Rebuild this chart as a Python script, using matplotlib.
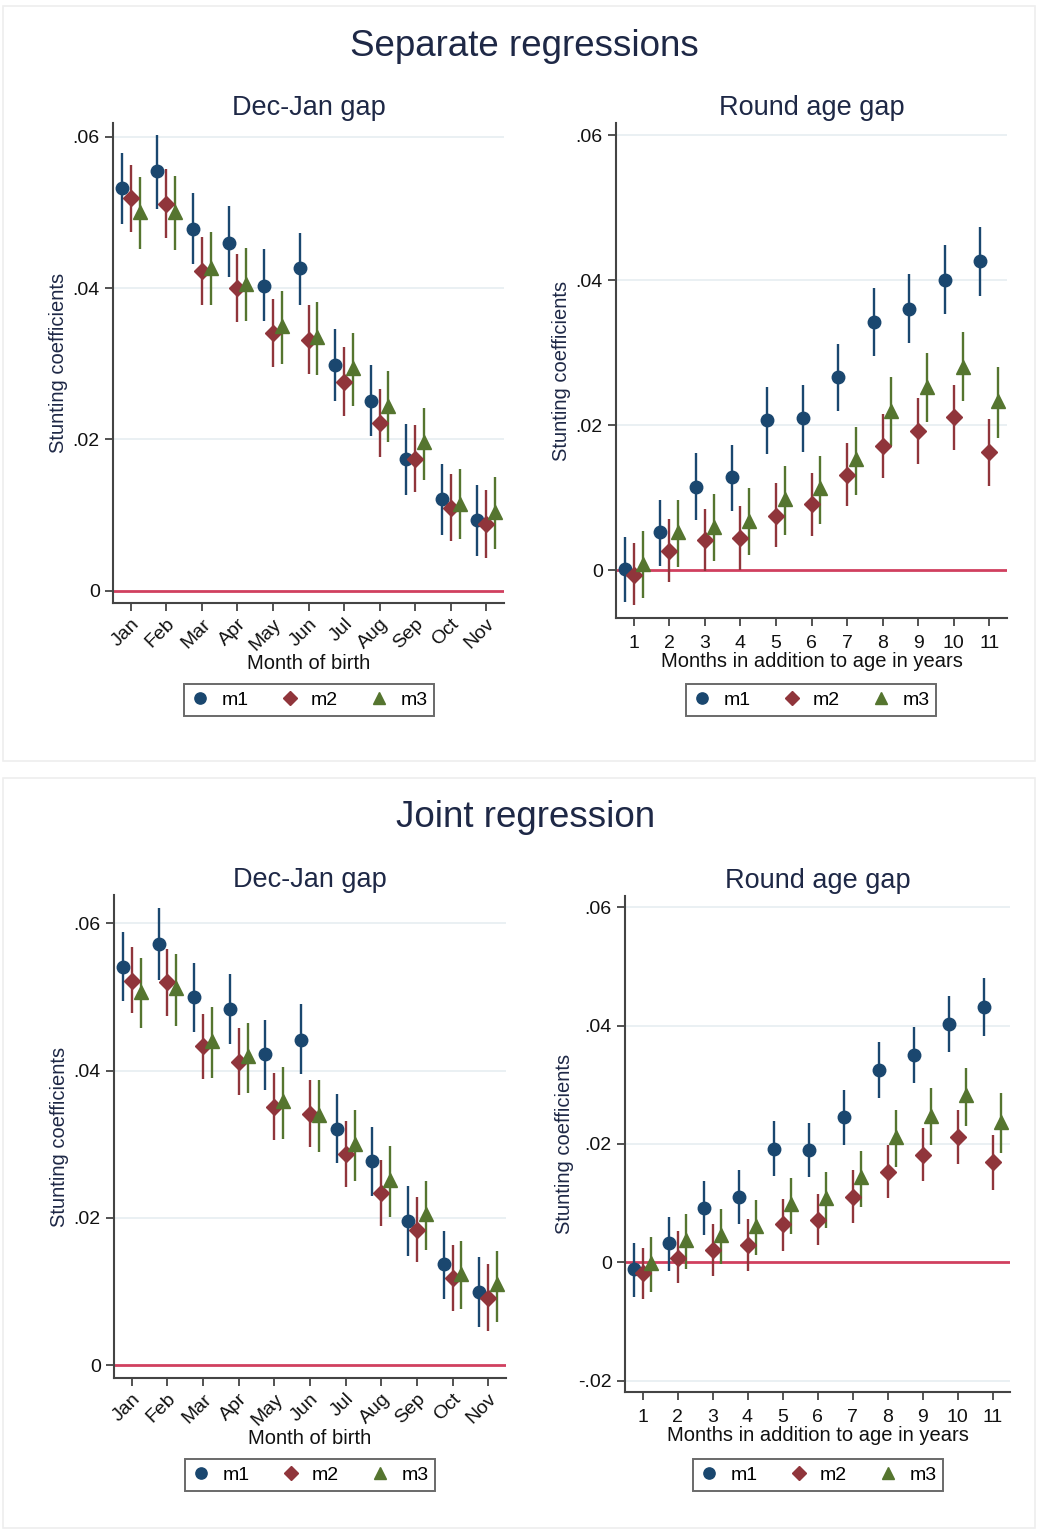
import matplotlib.pyplot as plt
from matplotlib.lines import Line2D
from matplotlib.patches import Rectangle

plt.rcParams['font.family'] = ['Liberation Sans', 'DejaVu Sans']

months = ['Jan', 'Feb', 'Mar', 'Apr', 'May', 'Jun', 'Jul', 'Aug', 'Sep', 'Oct', 'Nov']
extra_months = [1, 2, 3, 4, 5, 6, 7, 8, 9, 10, 11]
models = ['m1', 'm2', 'm3']

# ---- separate regressions: Dec-Jan gap ----
sep_dj_m1 = [0.0532, 0.0554, 0.0478, 0.0460, 0.0403, 0.0426, 0.0299, 0.0251, 0.0174, 0.0121, 0.0093]
sep_dj_m1_lo = [0.0485, 0.0505, 0.0432, 0.0414, 0.0356, 0.0378, 0.0251, 0.0204, 0.0126, 0.0074, 0.0046]
sep_dj_m1_hi = [0.0578, 0.0602, 0.0525, 0.0509, 0.0451, 0.0473, 0.0346, 0.0298, 0.0220, 0.0167, 0.0140]
sep_dj_m2 = [0.0519, 0.0511, 0.0422, 0.0400, 0.0341, 0.0332, 0.0276, 0.0222, 0.0174, 0.0110, 0.0088]
sep_dj_m2_lo = [0.0474, 0.0466, 0.0378, 0.0355, 0.0296, 0.0287, 0.0231, 0.0177, 0.0130, 0.0066, 0.0043]
sep_dj_m2_hi = [0.0563, 0.0557, 0.0467, 0.0445, 0.0386, 0.0378, 0.0322, 0.0267, 0.0219, 0.0155, 0.0133]
sep_dj_m3 = [0.0501, 0.0501, 0.0427, 0.0406, 0.0350, 0.0336, 0.0294, 0.0244, 0.0196, 0.0115, 0.0104]
sep_dj_m3_lo = [0.0452, 0.0450, 0.0378, 0.0356, 0.0300, 0.0285, 0.0244, 0.0196, 0.0147, 0.0068, 0.0055]
sep_dj_m3_hi = [0.0547, 0.0548, 0.0474, 0.0453, 0.0396, 0.0382, 0.0341, 0.0291, 0.0242, 0.0161, 0.0151]

# ---- separate regressions: round age gap ----
sep_ra_m1 = [0.0001, 0.0052, 0.0115, 0.0128, 0.0207, 0.0210, 0.0266, 0.0342, 0.0360, 0.0401, 0.0426]
sep_ra_m1_lo = [-0.0044, 0.0006, 0.0069, 0.0082, 0.0160, 0.0163, 0.0219, 0.0296, 0.0313, 0.0354, 0.0378]
sep_ra_m1_hi = [0.0046, 0.0097, 0.0161, 0.0173, 0.0253, 0.0255, 0.0312, 0.0389, 0.0408, 0.0449, 0.0474]
sep_ra_m2 = [-0.0006, 0.0026, 0.0041, 0.0045, 0.0075, 0.0091, 0.0132, 0.0171, 0.0192, 0.0211, 0.0163]
sep_ra_m2_lo = [-0.0048, -0.0017, -0.0001, 0.0000, 0.0032, 0.0047, 0.0088, 0.0127, 0.0147, 0.0166, 0.0116]
sep_ra_m2_hi = [0.0038, 0.0070, 0.0085, 0.0088, 0.0120, 0.0134, 0.0176, 0.0216, 0.0237, 0.0256, 0.0209]
sep_ra_m3 = [0.0009, 0.0052, 0.0060, 0.0068, 0.0098, 0.0113, 0.0153, 0.0220, 0.0253, 0.0281, 0.0233]
sep_ra_m3_lo = [-0.0038, 0.0005, 0.0012, 0.0021, 0.0049, 0.0064, 0.0104, 0.0171, 0.0205, 0.0233, 0.0182]
sep_ra_m3_hi = [0.0054, 0.0097, 0.0105, 0.0113, 0.0144, 0.0157, 0.0198, 0.0266, 0.0300, 0.0328, 0.0281]

# ---- joint regression: Dec-Jan gap ----
jnt_dj_m1 = [0.0541, 0.0572, 0.0499, 0.0484, 0.0422, 0.0442, 0.0321, 0.0277, 0.0196, 0.0137, 0.0099]
jnt_dj_m1_lo = [0.0494, 0.0523, 0.0452, 0.0436, 0.0374, 0.0395, 0.0274, 0.0230, 0.0149, 0.0090, 0.0052]
jnt_dj_m1_hi = [0.0588, 0.0620, 0.0546, 0.0531, 0.0469, 0.0490, 0.0368, 0.0323, 0.0243, 0.0182, 0.0147]
jnt_dj_m2 = [0.0522, 0.0520, 0.0433, 0.0411, 0.0351, 0.0341, 0.0287, 0.0234, 0.0184, 0.0118, 0.0092]
jnt_dj_m2_lo = [0.0478, 0.0474, 0.0388, 0.0367, 0.0306, 0.0296, 0.0242, 0.0189, 0.0140, 0.0074, 0.0047]
jnt_dj_m2_hi = [0.0567, 0.0565, 0.0477, 0.0457, 0.0397, 0.0387, 0.0332, 0.0278, 0.0229, 0.0163, 0.0137]
jnt_dj_m3 = [0.0506, 0.0512, 0.0440, 0.0419, 0.0358, 0.0340, 0.0300, 0.0252, 0.0206, 0.0124, 0.0110]
jnt_dj_m3_lo = [0.0458, 0.0460, 0.0390, 0.0369, 0.0307, 0.0290, 0.0250, 0.0202, 0.0156, 0.0076, 0.0059]
jnt_dj_m3_hi = [0.0552, 0.0558, 0.0486, 0.0465, 0.0405, 0.0387, 0.0346, 0.0298, 0.0250, 0.0169, 0.0155]

# ---- joint regression: round age gap ----
jnt_ra_m1 = [-0.0012, 0.0032, 0.0092, 0.0110, 0.0192, 0.0190, 0.0245, 0.0325, 0.0351, 0.0403, 0.0431]
jnt_ra_m1_lo = [-0.0059, -0.0014, 0.0046, 0.0064, 0.0146, 0.0144, 0.0198, 0.0278, 0.0303, 0.0355, 0.0383]
jnt_ra_m1_hi = [0.0033, 0.0077, 0.0137, 0.0156, 0.0239, 0.0236, 0.0292, 0.0372, 0.0398, 0.0450, 0.0481]
jnt_ra_m2 = [-0.0018, 0.0008, 0.0021, 0.0030, 0.0064, 0.0072, 0.0111, 0.0153, 0.0182, 0.0211, 0.0169]
jnt_ra_m2_lo = [-0.0062, -0.0035, -0.0023, -0.0014, 0.0020, 0.0029, 0.0067, 0.0109, 0.0137, 0.0166, 0.0122]
jnt_ra_m2_hi = [0.0025, 0.0053, 0.0065, 0.0074, 0.0107, 0.0116, 0.0156, 0.0198, 0.0227, 0.0257, 0.0215]
jnt_ra_m3 = [-0.0001, 0.0037, 0.0047, 0.0061, 0.0098, 0.0108, 0.0145, 0.0211, 0.0248, 0.0282, 0.0238]
jnt_ra_m3_lo = [-0.0050, -0.0011, -0.0003, 0.0012, 0.0048, 0.0058, 0.0094, 0.0161, 0.0198, 0.0231, 0.0185]
jnt_ra_m3_hi = [0.0043, 0.0082, 0.0090, 0.0105, 0.0142, 0.0152, 0.0189, 0.0257, 0.0294, 0.0329, 0.0286]

colors = ['#1a476f', '#90353b', '#55752f']
markers = ['o', 'D', '^']
msizes = [9, 8, 10]
offsets = [-0.25, 0.0, 0.25]
title_col = '#1e2846'
W, H = 1038, 1532

fig = plt.figure(figsize=(W / 100, H / 100), dpi=100)


def px_box(x0, y0, x1, y1):
    return [x0 / W, 1 - y1 / H, (x1 - x0) / W, (y1 - y0) / H]


def coef_panel(box, series, ylim, yticks, ticklabels, rotate, xlabel, subtitle, legend_xy):
    ax = fig.add_axes(px_box(*box))
    for k in range(3):
        coef, lo, hi = series[k]
        xs = [i + 1 + offsets[k] for i in range(len(coef))]
        ax.vlines(xs, lo, hi, color=colors[k], lw=1.7, zorder=3)
        ax.plot(xs, coef, ls='none', marker=markers[k], ms=msizes[k],
                color=colors[k], mec=colors[k], zorder=4)
    ax.axhline(0, color='#d0405f', lw=2, zorder=2)
    for t in yticks:
        if t != 0:
            ax.axhline(t, color='#e6eef1', lw=1.2, zorder=1)
    ax.set_xlim(0.5, 11.5)
    ax.set_ylim(*ylim)
    ax.set_yticks(yticks)
    ax.set_yticklabels([('%.2f' % t).replace('0.', '.') if t != 0 else '0' for t in yticks])
    ax.set_xticks(range(1, 12))
    if rotate:
        ax.set_xticklabels(ticklabels, rotation=45, ha='right', va='top', rotation_mode='anchor')
    else:
        ax.set_xticklabels(ticklabels)
    ax.tick_params(labelsize=14, length=6, width=1.3, color='#444444', labelcolor='#111111')
    ax.tick_params(axis='x', pad=3 if rotate else 6)
    for s in ['top', 'right']:
        ax.spines[s].set_visible(False)
    for s in ['left', 'bottom']:
        ax.spines[s].set_color('#444444')
        ax.spines[s].set_linewidth(1.5)
    ax.set_ylabel('Stunting coefficients', fontsize=14.5, color=title_col, labelpad=3)
    ax.set_xlabel(xlabel, fontsize=14.5, color='#111111', labelpad=0)
    ax.set_title(subtitle, fontsize=19.5, color=title_col, pad=6)
    handles = [Line2D([], [], ls='none', marker=markers[k], ms=msizes[k] * 0.9,
                      color=colors[k]) for k in range(3)]
    leg = ax.legend(handles, models, loc='center', ncol=3, fontsize=14,
                    bbox_to_anchor=(legend_xy[0] / W, 1 - legend_xy[1] / H),
                    bbox_transform=fig.transFigure, frameon=True, fancybox=False,
                    handlelength=1.0, handletextpad=0.6, columnspacing=1.6,
                    borderpad=0.35)
    leg.get_frame().set_edgecolor('#444444')
    leg.get_frame().set_linewidth(1.4)
    return ax


# outer frames of the two combined graphs
for y0, y1 in [(6, 761), (778, 1528)]:
    fig.patches.append(Rectangle((3 / W, 1 - y1 / H), 1032 / W, (y1 - y0) / H,
                                 transform=fig.transFigure, fill=False,
                                 edgecolor='#eeeeee', lw=1.2))

fig.text(524 / W, 1 - 46 / H, 'Separate regressions', ha='center', va='center',
         fontsize=26.5, color=title_col)
fig.text(526 / W, 1 - 818 / H, 'Joint regression', ha='center', va='center',
         fontsize=26.5, color=title_col)

yt = [0, 0.02, 0.04, 0.06]
coef_panel((113, 123, 504, 603),
           [(sep_dj_m1, sep_dj_m1_lo, sep_dj_m1_hi),
            (sep_dj_m2, sep_dj_m2_lo, sep_dj_m2_hi),
            (sep_dj_m3, sep_dj_m3_lo, sep_dj_m3_hi)],
           (-0.0016, 0.0618), yt, months, True, 'Month of birth', 'Dec-Jan gap', (309, 700))
coef_panel((616, 123, 1007, 618),
           [(sep_ra_m1, sep_ra_m1_lo, sep_ra_m1_hi),
            (sep_ra_m2, sep_ra_m2_lo, sep_ra_m2_hi),
            (sep_ra_m3, sep_ra_m3_lo, sep_ra_m3_hi)],
           (-0.0066, 0.0617), yt, extra_months, False,
           'Months in addition to age in years', 'Round age gap', (811, 700))
coef_panel((114, 895, 506, 1378),
           [(jnt_dj_m1, jnt_dj_m1_lo, jnt_dj_m1_hi),
            (jnt_dj_m2, jnt_dj_m2_lo, jnt_dj_m2_hi),
            (jnt_dj_m3, jnt_dj_m3_lo, jnt_dj_m3_hi)],
           (-0.0017, 0.0638), yt, months, True, 'Month of birth', 'Dec-Jan gap', (310, 1475))
coef_panel((625, 896, 1010, 1392),
           [(jnt_ra_m1, jnt_ra_m1_lo, jnt_ra_m1_hi),
            (jnt_ra_m2, jnt_ra_m2_lo, jnt_ra_m2_hi),
            (jnt_ra_m3, jnt_ra_m3_lo, jnt_ra_m3_hi)],
           (-0.0219, 0.0619), [-0.02] + yt, extra_months, False,
           'Months in addition to age in years', 'Round age gap', (818, 1475))

fig.savefig('out.png', dpi=100, facecolor='white')
